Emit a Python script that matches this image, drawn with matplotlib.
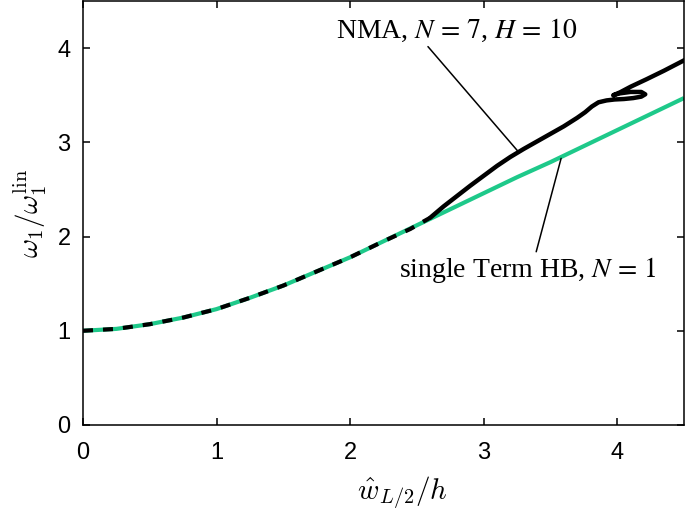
import matplotlib
matplotlib.use("Agg")
import matplotlib.pyplot as plt

# single-term HB backbone (N = 1)
hb_x = [0.0, 0.25, 0.5, 0.75, 1.0, 1.25, 1.5, 1.75, 2.0, 2.25, 2.5, 2.75,
        3.0, 3.25, 3.5, 3.75, 4.0, 4.25, 4.5]
hb_y = [1.00, 1.02, 1.07, 1.14, 1.23, 1.35, 1.48, 1.63, 1.78, 1.95, 2.12, 2.29,
        2.46, 2.63, 2.79, 2.96, 3.13, 3.30, 3.47]

# NMA backbone (N = 7, H = 10): overlapping part (dashed) and diverging part (solid)
nma_x_low = [0.0, 0.25, 0.5, 0.75, 1.0, 1.25, 1.5, 1.75, 2.0, 2.25, 2.45, 2.6]
nma_y_low = [1.00, 1.02, 1.07, 1.14, 1.23, 1.35, 1.48, 1.63, 1.78, 1.95, 2.08, 2.20]
nma_x_high = [2.6, 2.7, 2.8, 2.9, 3.0, 3.1, 3.2, 3.3, 3.4, 3.5, 3.6, 3.7, 3.76, 3.81,
              3.86, 3.92, 3.98, 4.05, 4.12, 4.18, 4.21, 4.18, 4.10, 4.02, 3.97,
              4.02, 4.10, 4.22, 4.35, 4.5, 4.6]
nma_y_high = [2.20, 2.32, 2.43, 2.54, 2.645, 2.75, 2.845, 2.93, 3.01, 3.09, 3.17, 3.26,
              3.32, 3.38, 3.425, 3.445, 3.455, 3.46, 3.47, 3.485, 3.51, 3.535, 3.535,
              3.52, 3.50, 3.53, 3.59, 3.67, 3.76, 3.87, 3.93]

x_ticks = [0, 1, 2, 3, 4]
y_ticks = [0, 1, 2, 3, 4]

green = "#1ec98a"

fig = plt.figure(figsize=(6.85, 5.16), dpi=100)
ax = fig.add_axes([0.1212, 0.1764, 0.8773, 0.8216])

ax.plot(hb_x, hb_y, color=green, lw=3.0, solid_capstyle="butt", zorder=2)
ax.plot(nma_x_low, nma_y_low, color="black", lw=3.0, dashes=(2.4, 2.4), zorder=3)
ax.plot(nma_x_high, nma_y_high, color="black", lw=3.2, solid_joinstyle="round",
        solid_capstyle="round", zorder=3)

ax.set_xlim(0, 4.5)
ax.set_ylim(0, 4.5)
ax.set_xticks(x_ticks)
ax.set_yticks(y_ticks)
ax.tick_params(direction="in", length=5, width=1.1, top=True, right=True,
               labelsize=17)
ax.tick_params(axis="x", pad=12)
ax.tick_params(axis="y", pad=9)
for lab in ax.get_xticklabels() + ax.get_yticklabels():
    lab.set_fontfamily("Liberation Sans")
for s in ax.spines.values():
    s.set_linewidth(1.1)

ax.set_xlabel(r"$\hat{w}_{L/2}/h$", fontsize=21, math_fontfamily="cm")
ax.xaxis.set_label_coords(0.532, -0.118)
ax.set_ylabel(r"$\omega_1/\omega_1^{\rm lin}$", fontsize=21, math_fontfamily="cm", labelpad=6)

ax.annotate(r"NMA, $N\,=\,7$, $H\,=\,10$", xy=(3.26, 2.90), xytext=(2.80, 4.19),
            ha="center", va="center", fontsize=20, family="Liberation Serif",
            math_fontfamily="stix",
            arrowprops=dict(arrowstyle="-", color="black", lw=1.1,
                            shrinkA=0, shrinkB=0, relpos=(0.37, 0.0)))
ax.annotate(r"single Term HB, $N\,=\,1$", xy=(3.58, 2.83), xytext=(3.33, 1.65),
            ha="center", va="center", fontsize=20, family="Liberation Serif",
            math_fontfamily="stix",
            arrowprops=dict(arrowstyle="-", color="black", lw=1.1,
                            shrinkA=0, shrinkB=0, relpos=(0.53, 1.0)))

fig.savefig("out.png", dpi=100)
